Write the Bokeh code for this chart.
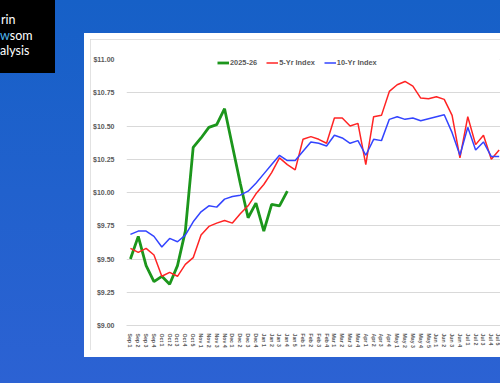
from bokeh.plotting import figure
from bokeh.layouts import row, column
from bokeh.models import Label, FixedTicker, NumeralTickFormatter, Range1d, Div
from bokeh.embed import file_html
from bokeh.resources import INLINE

# ---------------- data ----------------
weeks = ["Sep 1", "Sep 2", "Sep 3", "Sep 4", "Oct 1", "Oct 2", "Oct 3", "Oct 4", "Oct 5",
         "Nov 1", "Nov 2", "Nov 3", "Nov 4", "Dec 1", "Dec 2", "Dec 3", "Dec 4",
         "Jan 1", "Jan 2", "Jan 3", "Jan 4", "Jan 5", "Feb 1", "Feb 2", "Feb 3", "Feb 4",
         "Mar 1", "Mar 2", "Mar 3", "Mar 4", "Apr 1", "Apr 2", "Apr 3", "Apr 4",
         "May 1", "May 2", "May 3", "May 4", "May 5", "Jun 1", "Jun 2", "Jun 3", "Jun 4",
         "Jul 1", "Jul 2", "Jul 3", "Jul 4", "Jul 5"]

current_2025_26 = [9.50, 9.67, 9.45, 9.33, 9.37, 9.31, 9.45, 9.71, 10.34, 10.41, 10.49,
                   10.51, 10.63, 10.35, 10.07, 9.81, 9.92, 9.71, 9.91, 9.90, 10.01]

index_5yr = [9.58, 9.55, 9.58, 9.53, 9.37, 9.40, 9.37, 9.46, 9.51, 9.68, 9.745, 9.77,
             9.79, 9.77, 9.84, 9.90, 9.99, 10.06, 10.15, 10.26, 10.21, 10.17, 10.40,
             10.42, 10.40, 10.37, 10.56, 10.56, 10.50, 10.52, 10.21, 10.57, 10.58, 10.76,
             10.81, 10.835, 10.80, 10.71, 10.705, 10.72, 10.70, 10.58, 10.26, 10.57,
             10.36, 10.43, 10.25, 10.32]

index_10yr = [9.685, 9.71, 9.71, 9.67, 9.59, 9.655, 9.63, 9.68, 9.78, 9.855, 9.90, 9.89,
              9.95, 9.97, 9.98, 10.01, 10.07, 10.14, 10.21, 10.28, 10.24, 10.24, 10.31,
              10.38, 10.37, 10.35, 10.43, 10.41, 10.37, 10.39, 10.28, 10.40, 10.39, 10.55,
              10.57, 10.55, 10.56, 10.54, 10.555, 10.57, 10.585, 10.45, 10.28, 10.49,
              10.32, 10.38, 10.27, 10.27]

y_ticks = [9.00, 9.25, 9.50, 9.75, 10.00, 10.25, 10.50, 10.75, 11.00]

title_text = "NATIONAL SOYBEAN PRICE INDEX: SEASONAL STUDY"
series_names = ["2025-26", "5-Yr Index", "10-Yr Index"]
# the logo is cropped at the left edge in the reference; these are its visible parts
logo_lines = ["rin", "wsom", "alysis"]

# ---------------- styling ----------------
GRAY_TXT = "#595959"
GRID = "#d9d9d9"
FONT = "Liberation Sans"

PW, PH = 410, 311          # chart box (inside the white card)
L, R, T, B = 32, 0, 20, 19
FB = PH - B                # frame bottom in chart px

p = figure(width=PW, height=PH, x_range=Range1d(-0.5, 47.17), y_range=Range1d(9, 11),
           output_backend="svg", toolbar_location=None, title=None,
           min_border_left=L, min_border_right=R, min_border_top=T, min_border_bottom=B,
           background_fill_color="white", border_fill_color="white", outline_line_color=None,
           margin=(6, 0, 7, 6),
           styles={"outline": "1px solid #d9d9d9", "outline-offset": "-1px"})

xs_all = list(range(len(weeks)))
p.line(xs_all[:len(current_2025_26)], current_2025_26, line_color="#1c961c", line_width=2.8,
       legend_label=series_names[0])
p.line(xs_all, index_5yr, line_color="#ff2424", line_width=1.5, legend_label=series_names[1])
p.line(xs_all, index_10yr, line_color="#3344ff", line_width=1.5, legend_label=series_names[2])

# axes / grid
p.xgrid.grid_line_color = None
p.ygrid.grid_line_color = GRID
p.ygrid.ticker = FixedTicker(ticks=y_ticks)

p.yaxis.ticker = FixedTicker(ticks=y_ticks)
p.yaxis.formatter = NumeralTickFormatter(format="$0.00")
p.yaxis.axis_line_color = None
p.yaxis.major_tick_line_color = None
p.yaxis.minor_tick_line_color = None
p.yaxis.major_label_standoff = 6
p.yaxis.major_label_text_font = FONT
p.yaxis.major_label_text_font_size = "7px"
p.yaxis.major_label_text_font_style = "bold"
p.yaxis.major_label_text_color = GRAY_TXT

p.xaxis.ticker = FixedTicker(ticks=xs_all)
p.xaxis.major_label_overrides = {i: w for i, w in enumerate(weeks)}
p.xaxis.major_label_orientation = "vertical"
p.xaxis.axis_line_color = GRID
p.xaxis.major_tick_line_color = None
p.xaxis.minor_tick_line_color = None
p.xaxis.major_label_standoff = 2
p.xaxis.major_label_text_font = FONT
p.xaxis.major_label_text_font_size = "5.2px"
p.xaxis.major_label_text_font_style = "bold"
p.xaxis.major_label_text_color = GRAY_TXT

# legend
lg = p.legend[0]
lg.location = (91, 258)
lg.orientation = "horizontal"
lg.background_fill_alpha = 0
lg.border_line_color = None
lg.padding = 0
lg.margin = 0
lg.spacing = 9
lg.label_standoff = 1
lg.glyph_width = 12
lg.glyph_height = 9
lg.label_height = 9
lg.label_text_font = FONT
lg.label_text_font_size = "7.4px"
lg.label_text_font_style = "bold"
lg.label_text_color = GRAY_TXT

# title (centre at chart px 235, 11)
p.add_layout(Label(x=235 - L, y=FB - 11, x_units="screen", y_units="screen", text=title_text,
                   text_align="center", text_baseline="middle", text_font=FONT,
                   text_font_size="7.8px", text_font_style="bold", text_color=GRAY_TXT))

# white card holding the chart
card = column(p, margin=(33, 0, 26, 0), width=416, height=324,
              styles={"background-color": "white"})

# black logo box
logo_html = (
    "<div style='position:relative;width:55px;height:73px;overflow:hidden;background:#000;"
    "font-family:Lato, sans-serif;font-size:12.5px;line-height:16px;color:#fff;'>"
    f"<span style='position:absolute;left:1px;top:12px;white-space:nowrap;'>{logo_lines[0]}</span>"
    f"<span style='position:absolute;left:0px;top:28px;white-space:nowrap;'>"
    f"<span style='color:#4fb6ee'>{logo_lines[1][0]}</span>{logo_lines[1][1:]}</span>"
    f"<span style='position:absolute;left:0px;top:43px;white-space:nowrap;'>{logo_lines[2]}</span>"
    "</div>"
)
logo = Div(text=logo_html, width=55, height=73, margin=(0, 29, 0, 0),
           styles={"background-color": "black", "overflow": "hidden"})

page = row(logo, card, width=500, height=383,
           styles={"background": "linear-gradient(to bottom, #1660c7, #2c62d3)"})

open("out.html", "w").write(file_html(page, INLINE))
